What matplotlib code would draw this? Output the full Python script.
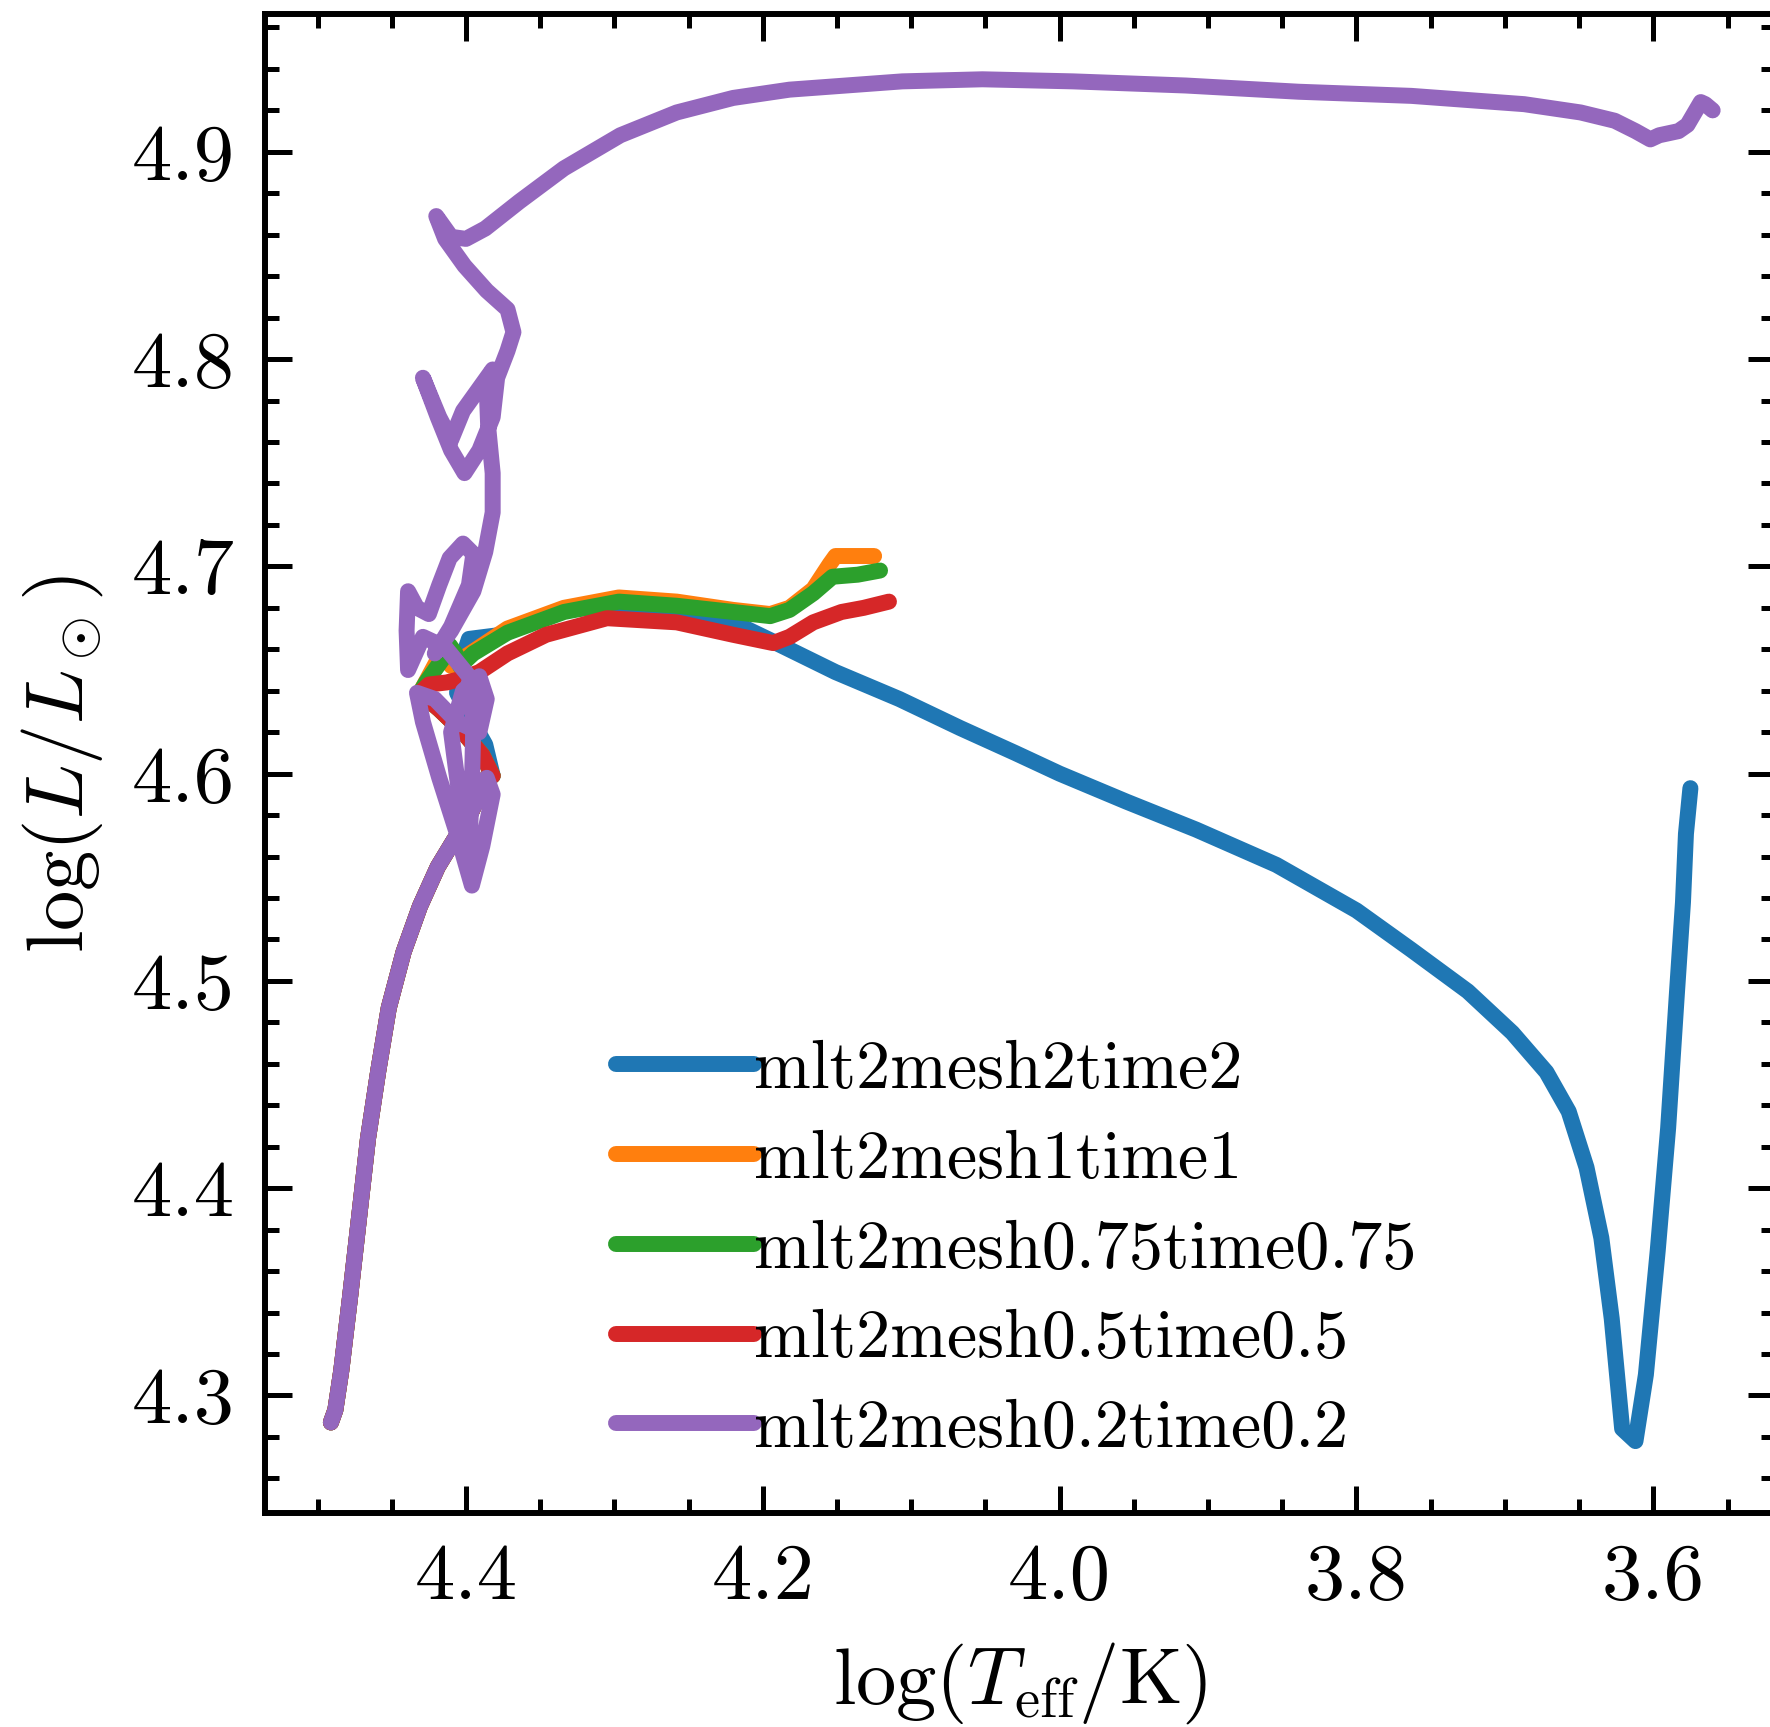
import numpy as np
import matplotlib
matplotlib.use("Agg")
import matplotlib.pyplot as plt

plt.rcParams['font.family'] = 'serif'
plt.rcParams['font.serif'] = ['cmr10']
plt.rcParams['mathtext.fontset'] = 'cm'
plt.rcParams['axes.unicode_minus'] = False
plt.rcParams['axes.formatter.use_mathtext'] = True

# shared ZAMS -> end of main sequence (all runs)
ms_logT = [4.491, 4.488, 4.484, 4.478, 4.472, 4.466, 4.459, 4.452, 4.442, 4.431,
           4.419, 4.408, 4.398, 4.391, 4.386]
ms_logL = [4.287, 4.293, 4.312, 4.348, 4.386, 4.424, 4.457, 4.487, 4.514, 4.536,
           4.555, 4.568, 4.579, 4.590, 4.598]

# mlt2mesh2time2
blue_logT = [4.382, 4.387, 4.398, 4.406, 4.404, 4.398, 4.376, 4.357, 4.334, 4.300,
             4.258, 4.220, 4.188, 4.151, 4.108, 4.067, 4.030, 4.000, 3.955, 3.908,
             3.854, 3.800, 3.763, 3.725, 3.695, 3.672, 3.657, 3.645, 3.635, 3.628,
             3.621, 3.612, 3.605, 3.597, 3.590, 3.584, 3.580, 3.578, 3.575]
blue_logL = [4.599, 4.614, 4.628, 4.639, 4.652, 4.665, 4.667, 4.673, 4.679, 4.681,
             4.680, 4.673, 4.662, 4.649, 4.636, 4.622, 4.610, 4.600, 4.5865, 4.573,
             4.556, 4.534, 4.515, 4.495, 4.475, 4.456, 4.437, 4.410, 4.376, 4.337,
             4.284, 4.278, 4.310, 4.370, 4.429, 4.495, 4.538, 4.571, 4.593]

# hook shared by the three mid resolution runs
hook_logT = [4.382, 4.389, 4.402, 4.418, 4.431]
hook_logL = [4.599, 4.609, 4.620, 4.631, 4.639]

# mlt2mesh1time1
orange_logT = [4.425, 4.419, 4.415, 4.410, 4.395, 4.372, 4.334, 4.297, 4.258, 4.220,
               4.195, 4.182, 4.166, 4.155, 4.151, 4.140, 4.125]
orange_logL = [4.647, 4.655, 4.661, 4.652, 4.659, 4.670, 4.680, 4.685, 4.683, 4.679,
               4.677, 4.680, 4.689, 4.701, 4.705, 4.705, 4.705]

# mlt2mesh0.75time0.75
green_logT = [4.427, 4.416, 4.411, 4.407, 4.404, 4.395, 4.372, 4.334, 4.297, 4.258,
              4.220, 4.195, 4.182, 4.166, 4.153, 4.136, 4.121]
green_logL = [4.644, 4.655, 4.662, 4.658, 4.652, 4.658, 4.668, 4.678, 4.683, 4.681,
              4.678, 4.676, 4.679, 4.687, 4.695, 4.696, 4.698]

# mlt2mesh0.5time0.5
red_logT = [4.425, 4.413, 4.402, 4.391, 4.372, 4.346, 4.305, 4.258, 4.220, 4.193,
            4.182, 4.166, 4.147, 4.132, 4.115]
red_logL = [4.643, 4.644, 4.646, 4.649, 4.658, 4.667, 4.675, 4.673, 4.667, 4.663,
            4.666, 4.673, 4.678, 4.680, 4.683]

# mlt2mesh0.2time0.2
purple_logT = [4.386, 4.382, 4.389, 4.396, 4.406, 4.418, 4.429, 4.433, 4.421, 4.406,
               4.391, 4.386, 4.391, 4.402, 4.410, 4.406, 4.398, 4.396, 4.395, 4.398,
               4.414, 4.429, 4.439, 4.440, 4.439, 4.433, 4.425, 4.418, 4.411, 4.402,
               4.395, 4.398, 4.410, 4.421, 4.410, 4.395, 4.387, 4.382, 4.382, 4.385,
               4.386, 4.382, 4.391, 4.402, 4.410, 4.418, 4.429, 4.419, 4.410, 4.401,
               4.391, 4.382, 4.379, 4.372, 4.368, 4.372, 4.386, 4.401, 4.414, 4.420,
               4.410, 4.400, 4.387, 4.364, 4.334, 4.296, 4.258, 4.220, 4.182, 4.106,
               4.052, 3.991, 3.915, 3.839, 3.763, 3.687, 3.649, 3.626, 3.612, 3.602,
               3.596, 3.583, 3.577, 3.568, 3.565, 3.560]
purple_logL = [4.598, 4.590, 4.565, 4.546, 4.571, 4.598, 4.625, 4.639, 4.636, 4.625,
               4.620, 4.636, 4.647, 4.640, 4.620, 4.598, 4.560, 4.593, 4.625, 4.647,
               4.661, 4.666, 4.650, 4.669, 4.688, 4.680, 4.677, 4.691, 4.704, 4.711,
               4.706, 4.691, 4.671, 4.658, 4.669, 4.688, 4.707, 4.726, 4.745, 4.767,
               4.786, 4.795, 4.786, 4.775, 4.761, 4.772, 4.791, 4.772, 4.756, 4.745,
               4.756, 4.772, 4.791, 4.804, 4.813, 4.824, 4.833, 4.845, 4.858, 4.869,
               4.859, 4.858, 4.863, 4.876, 4.892, 4.908, 4.919, 4.926, 4.930, 4.934,
               4.935, 4.934, 4.932, 4.929, 4.927, 4.923, 4.919, 4.915, 4.910, 4.906,
               4.908, 4.910, 4.913, 4.924, 4.923, 4.920]

labels = ['mlt2mesh2time2', 'mlt2mesh1time1', 'mlt2mesh0.75time0.75',
          'mlt2mesh0.5time0.5', 'mlt2mesh0.2time0.2']

tracks = [
    (ms_logT + blue_logT, ms_logL + blue_logL),
    (ms_logT + hook_logT + orange_logT, ms_logL + hook_logL + orange_logL),
    (ms_logT + hook_logT + green_logT, ms_logL + hook_logL + green_logL),
    (ms_logT + hook_logT + red_logT, ms_logL + hook_logL + red_logL),
    (ms_logT + purple_logT, ms_logL + purple_logL),
]

fig = plt.figure(figsize=(17.7, 17.27), dpi=100)
ax = fig.add_axes([265/1770, 214/1727, 1510/1770, 1499/1727])

for i, (t, l) in enumerate(tracks):
    ax.plot(t, l, color='C%d' % i, lw=11.5, label=labels[i],
            solid_capstyle='round', solid_joinstyle='round')

ax.set_xlim(4.5354, 3.518)
ax.set_ylim(4.2433, 4.9665)
ax.set_xticks([4.4, 4.2, 4.0, 3.8, 3.6])
ax.set_yticks([4.3, 4.4, 4.5, 4.6, 4.7, 4.8, 4.9])
ax.xaxis.set_major_formatter(matplotlib.ticker.FormatStrFormatter('%.1f'))
ax.yaxis.set_major_formatter(matplotlib.ticker.FormatStrFormatter('%.1f'))
ax.xaxis.set_minor_locator(matplotlib.ticker.MultipleLocator(0.05))
ax.yaxis.set_minor_locator(matplotlib.ticker.MultipleLocator(0.02))
ax.tick_params(which='both', direction='in', top=True, right=True,
               width=3.6, labelsize=58, pad=22)
ax.tick_params(which='major', length=19.5)
ax.tick_params(which='minor', length=10)
for s in ax.spines.values():
    s.set_linewidth(4.3)

ax.set_xlabel(r'$\log(T_{\rm eff}/{\rm K})$', fontsize=58, labelpad=18)
ax.set_ylabel(r'$\log(L/L_\odot)$', fontsize=58, labelpad=19)

ax.legend(loc='upper left', bbox_to_anchor=(616/1770, 1 - 1040/1727),
          bbox_transform=fig.transFigure, frameon=False, fontsize=49,
          handlelength=2.03, handletextpad=0.0, labelspacing=0.42,
          borderpad=0, borderaxespad=0)

fig.savefig('out.png', dpi=100)
